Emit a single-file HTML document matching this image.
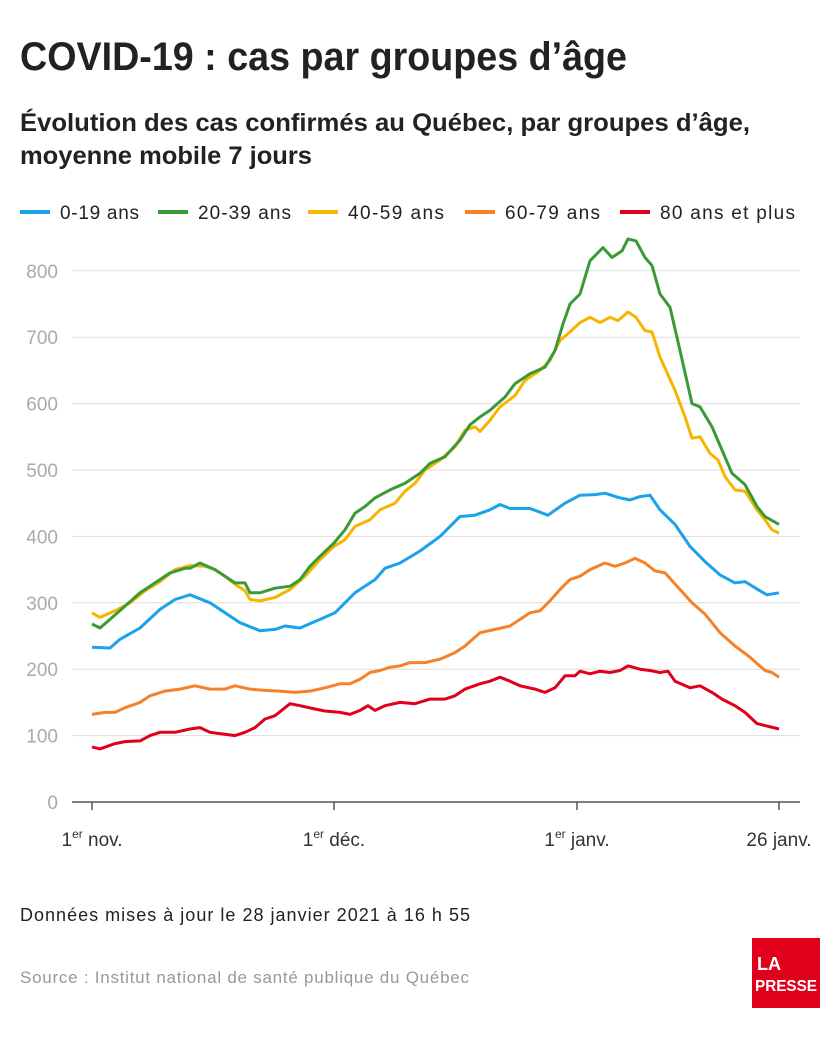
<!DOCTYPE html>
<html><head><meta charset="utf-8"><style>
body{margin:0;background:#fff;font-family:"Liberation Sans",sans-serif;}
#c{position:relative;width:840px;height:1040px;overflow:hidden}
</style></head><body><div id="c">
<svg width="840" height="1040" xmlns="http://www.w3.org/2000/svg" font-family="Liberation Sans, sans-serif">
<text x="20" y="70" font-size="40" font-weight="bold" fill="#222" textLength="607" lengthAdjust="spacingAndGlyphs">COVID-19 : cas par groupes d’âge</text>
<text x="20" y="131" font-size="25" font-weight="bold" fill="#222" textLength="730" lengthAdjust="spacingAndGlyphs">Évolution des cas confirmés au Québec, par groupes d’âge,</text>
<text x="20" y="164" font-size="25" font-weight="bold" fill="#222" textLength="292" lengthAdjust="spacingAndGlyphs">moyenne mobile 7 jours</text>
<g font-size="19" fill="#222">
<line x1="20" y1="212" x2="50" y2="212" stroke="#1aa3e8" stroke-width="4"/><text x="60" y="219" textLength="79">0-19 ans</text>
<line x1="158" y1="212" x2="188" y2="212" stroke="#3a9a35" stroke-width="4"/><text x="198" y="219" textLength="93">20-39 ans</text>
<line x1="308" y1="212" x2="338" y2="212" stroke="#f7b500" stroke-width="4"/><text x="348" y="219" textLength="96">40-59 ans</text>
<line x1="465" y1="212" x2="495" y2="212" stroke="#f5822a" stroke-width="4"/><text x="505" y="219" textLength="95">60-79 ans</text>
<line x1="620" y1="212" x2="650" y2="212" stroke="#e0001b" stroke-width="4"/><text x="660" y="219" textLength="135">80 ans et plus</text>
</g>
<g id="grid" stroke="#ddd" stroke-width="1"></g>
<g id="lbl" font-size="19" fill="#aaa"></g>
<line x1="72" y1="802" x2="800" y2="802" stroke="#555" stroke-width="1.5"/>
<g stroke="#555" stroke-width="1.5"><line x1="92" y1="802" x2="92" y2="810"/><line x1="334" y1="802" x2="334" y2="810"/><line x1="577" y1="802" x2="577" y2="810"/><line x1="779" y1="802" x2="779" y2="810"/></g>
<g font-size="19" fill="#333" text-anchor="middle">
<text x="92" y="846">1<tspan font-size="12" dy="-8">er</tspan><tspan dy="8"> nov.</tspan></text>
<text x="334" y="846">1<tspan font-size="12" dy="-8">er</tspan><tspan dy="8"> déc.</tspan></text>
<text x="577" y="846">1<tspan font-size="12" dy="-8">er</tspan><tspan dy="8"> janv.</tspan></text>
<text x="779" y="846">26 janv.</text>
</g>
<g id="lines" fill="none" stroke-width="3" stroke-linejoin="round"></g>
<text x="20" y="921" font-size="18" fill="#222" textLength="450">Données mises à jour le 28 janvier 2021 à 16 h 55</text>
<text x="20" y="983" font-size="17" fill="#999" textLength="449">Source : Institut national de santé publique du Québec</text>
<rect x="752" y="938" width="68" height="70" fill="#e0001b"/>
<text x="757" y="970" font-size="18" font-weight="bold" fill="#fff">LA</text>
<text x="755" y="991" font-size="16" font-weight="bold" fill="#fff" textLength="62" lengthAdjust="spacingAndGlyphs">PRESSE</text>
</svg>
<script>
var Y=function(v){return 802-v*0.664};
var g=document.getElementById('grid'),l=document.getElementById('lbl'),ns='http://www.w3.org/2000/svg';
for(var v=100;v<=800;v+=100){var e=document.createElementNS(ns,'line');e.setAttribute('x1',72);e.setAttribute('x2',800);e.setAttribute('y1',Y(v));e.setAttribute('y2',Y(v));g.appendChild(e);}
for(var v=0;v<=800;v+=100){var t=document.createElementNS(ns,'text');t.setAttribute('x',58);t.setAttribute('y',Y(v)+7);t.setAttribute('text-anchor','end');t.textContent=v;l.appendChild(t);}
var S={
'#f5822a':[92,132,105,135,115,135,125,142,140,150,150,160,165,167,180,170,195,175,210,170,225,170,235,175,250,170,265,168,280,167,295,165,310,167,325,172,340,178,350,178,360,185,370,195,380,198,390,203,400,205,410,210,425,210,440,215,455,225,465,235,480,255,495,260,510,265,520,275,530,285,540,288,550,303,560,320,570,335,580,340,590,350,605,360,615,355,625,360,635,367,645,360,655,348,665,345,680,320,692,300,705,283,720,255,735,235,750,218,765,198,772,195,779,188],
'#e0001b':[92,83,100,80,115,88,125,91,140,92,150,100,160,105,175,105,190,110,200,112,210,105,220,103,235,100,245,105,255,112,265,125,275,130,290,148,300,145,315,140,325,137,340,135,350,132,360,138,368,145,375,138,385,145,400,150,415,148,430,155,445,155,455,160,465,170,480,178,490,182,500,188,510,182,520,175,535,170,545,165,555,172,565,190,575,190,580,197,590,193,600,197,610,195,620,198,628,205,640,200,650,198,660,195,668,197,675,182,690,172,700,175,712,165,722,155,735,145,745,135,757,118,765,115,779,110],
'#1aa3e8':[92,233,110,232,120,245,140,262,160,290,175,305,190,312,210,300,225,285,240,270,260,258,275,260,285,265,300,262,320,275,335,285,355,315,375,335,385,352,400,360,420,378,440,400,460,430,475,432,490,440,500,448,510,442,530,442,548,432,565,450,580,462,595,463,605,465,620,458,630,455,640,460,650,462,660,440,675,418,690,385,705,362,720,342,735,330,745,332,760,318,767,312,779,315],
'#f7b500':[92,285,100,278,115,288,130,300,145,318,160,332,175,350,190,356,205,355,215,350,225,340,235,328,245,318,250,305,260,303,275,308,290,320,305,340,320,365,334,385,345,395,355,415,370,425,380,440,395,450,405,468,415,480,425,500,440,515,455,535,465,560,475,565,480,558,490,575,500,595,515,612,525,635,540,650,550,665,560,695,570,708,580,722,590,730,600,722,610,730,618,725,628,738,636,730,645,710,652,708,660,670,675,620,685,580,692,548,700,550,710,525,718,515,725,490,735,470,745,468,757,440,765,425,772,410,779,405],
'#3a9a35':[92,268,100,262,110,275,125,295,140,315,155,330,170,345,185,352,190,352,200,360,215,350,225,340,235,330,245,330,250,315,260,315,275,322,290,325,300,335,310,355,320,370,334,390,345,410,355,435,365,445,375,458,390,470,405,480,420,495,430,510,445,520,460,545,470,568,480,580,490,590,505,610,515,630,530,645,545,655,555,680,563,720,570,750,580,765,590,815,603,835,612,820,622,830,628,848,636,845,645,820,652,808,660,765,670,745,680,680,692,600,700,595,712,565,722,530,732,495,745,478,757,445,765,430,779,418]};
var L=document.getElementById('lines');
for(var c in S){var a=S[c],p=[];for(var i=0;i<a.length;i+=2)p.push(a[i]+','+Y(a[i+1]).toFixed(1));
var e=document.createElementNS(ns,'polyline');e.setAttribute('points',p.join(' '));e.setAttribute('stroke',c);L.appendChild(e);}
</script>
</div></body></html>
